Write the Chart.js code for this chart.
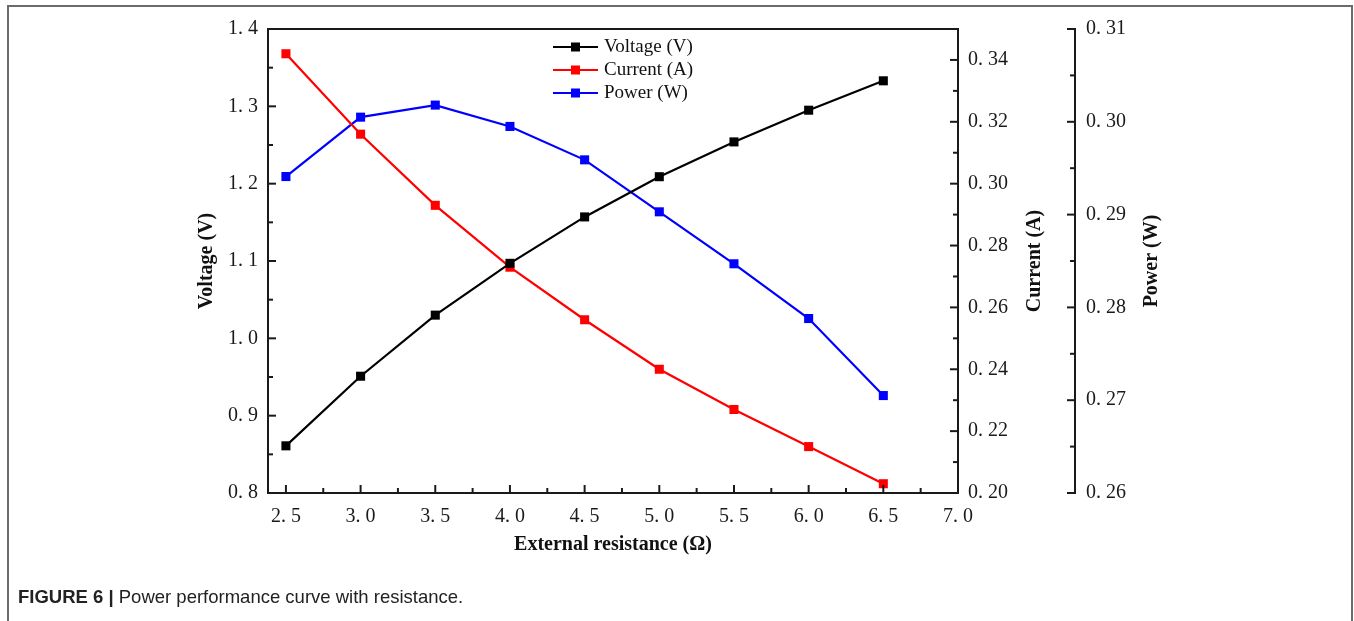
<!DOCTYPE html>
<html>
<head>
<meta charset="utf-8">
<title>Power performance curve with resistance</title>
<script src="https://cdn.jsdelivr.net/npm/chart.js@4.4.1/dist/chart.umd.min.js"></script>
<style>
  html, body { margin: 0; padding: 0; background: #fff; overflow: hidden; }
  #frame { position: absolute; left: 7px; top: 5px; width: 1342px; height: 640px; border: 2px solid #6b6b6b; border-bottom: none; }
  #chart { position: absolute; left: 0; top: 0; }
  #caption { position: absolute; left: 18px; top: 586px; font-family: "Liberation Sans", Arial, sans-serif; font-size: 18.5px; color: #222; }
  #caption b { font-weight: bold; }
</style>
</head>
<body>
<div id="frame"></div>
<canvas id="chart" width="1354" height="621"></canvas>
<div id="caption"><b>FIGURE 6 |</b> Power performance curve with resistance.</div>

<script>
// data
const resistance = [2.5, 3.0, 3.5, 4.0, 4.5, 5.0, 5.5, 6.0, 6.5];
const voltage = [0.861, 0.951, 1.030, 1.097, 1.157, 1.209, 1.254, 1.295, 1.333];
const current = [0.342, 0.316, 0.293, 0.273, 0.256, 0.240, 0.227, 0.215, 0.203];
const power = [0.2941, 0.3005, 0.3018, 0.2995, 0.2959, 0.2903, 0.2847, 0.2788, 0.2705];

const xTicks = [2.5, 3.0, 3.5, 4.0, 4.5, 5.0, 5.5, 6.0, 6.5, 7.0];
const voltageTicks = [0.8, 0.9, 1.0, 1.1, 1.2, 1.3, 1.4];
const currentTicks = [0.20, 0.22, 0.24, 0.26, 0.28, 0.30, 0.32, 0.34];
const powerTicks = [0.26, 0.27, 0.28, 0.29, 0.30, 0.31];

const serif = '"Liberation Serif", "Times New Roman", serif';
const tickFont = { family: serif, size: 20 };
const titleFont = { family: serif, size: 20, weight: 'bold' };

function pts(ys) {
  return resistance.map((x, i) => ({ x: x, y: ys[i] }));
}

// "1.4" -> "1. 4" like the original figure
function fmt(digits) {
  return v => Number(v).toFixed(digits).replace('.', '. ');
}

function fixedTicks(list) {
  return scale => { scale.ticks = list.map(v => ({ value: v })); };
}

// inward tick marks, minor ticks, axis frame, right titles, legend
const axisFrame = {
  id: 'axisFrame',
  afterDatasetsDraw(chart) {
    const { ctx, chartArea: a, scales } = chart;
    const pw = scales.yPower;
    ctx.save();
    ctx.strokeStyle = '#1a1a1a';
    ctx.lineWidth = 2;
    ctx.strokeRect(a.left, a.top, a.right - a.left, a.bottom - a.top);

    ctx.beginPath();
    ctx.moveTo(pw.left, a.top - 1);
    ctx.lineTo(pw.left, a.bottom + 1);
    ctx.stroke();

    function marks(scale, list, draw) {
      list.forEach((v, i) => {
        draw(scale.getPixelForValue(v), 8);
        if (i < list.length - 1) {
          draw(scale.getPixelForValue((v + list[i + 1]) / 2), 5);
        }
      });
    }
    function seg(x1, y1, x2, y2) {
      ctx.beginPath();
      ctx.moveTo(x1, y1);
      ctx.lineTo(x2, y2);
      ctx.stroke();
    }
    marks(scales.x, xTicks, (p, l) => seg(p, a.bottom, p, a.bottom - l));
    marks(scales.y, voltageTicks, (p, l) => seg(a.left, p, a.left + l, p));
    marks(scales.yCurrent, currentTicks, (p, l) => seg(a.right, p, a.right - l, p));
    marks(pw, powerTicks, (p, l) => seg(pw.left, p, pw.left - l, p));

    // right axis titles, read bottom to top
    ctx.fillStyle = '#111';
    ctx.font = 'bold 20px ' + serif;
    ctx.textAlign = 'center';
    ctx.textBaseline = 'middle';
    const cy = (a.top + a.bottom) / 2;
    [[scales.yCurrent.right - 40, 'Current (A)'], [pw.right - 13, 'Power (W)']].forEach(t => {
      ctx.save();
      ctx.translate(t[0], cy);
      ctx.rotate(-Math.PI / 2);
      ctx.fillText(t[1], 0, 0);
      ctx.restore();
    });

    // legend
    ctx.font = '19px ' + serif;
    ctx.textAlign = 'left';
    const lx = a.left + 285;
    chart.data.datasets.forEach((ds, i) => {
      const ly = a.top + 18 + i * 23;
      ctx.strokeStyle = ds.borderColor;
      ctx.lineWidth = 2;
      seg(lx, ly, lx + 45, ly);
      ctx.fillStyle = ds.borderColor;
      ctx.fillRect(lx + 18, ly - 4.5, 9, 9);
      ctx.fillStyle = '#111';
      ctx.fillText(ds.label, lx + 51, ly);
    });
    ctx.restore();
  }
};

const ctx = document.getElementById('chart');

new Chart(ctx, {
  type: 'line',
  data: {
    datasets: [
      { label: 'Voltage (V)', data: pts(voltage), yAxisID: 'y', borderColor: '#000000', backgroundColor: '#000000' },
      { label: 'Current (A)', data: pts(current), yAxisID: 'yCurrent', borderColor: '#ff0000', backgroundColor: '#ff0000' },
      { label: 'Power (W)', data: pts(power), yAxisID: 'yPower', borderColor: '#0000ff', backgroundColor: '#0000ff' }
    ]
  },
  options: {
    responsive: false,
    animation: false,
    layout: { padding: { left: 195, right: 189, top: 29, bottom: 64 } },
    elements: {
      line: { borderWidth: 2.2, tension: 0 },
      point: { pointStyle: 'rect', radius: 6.4, borderWidth: 0 }
    },
    plugins: {
      legend: { display: false },
      tooltip: { enabled: false }
    },
    scales: {
      x: {
        type: 'linear',
        min: 2.38,
        max: 7.0,
        afterBuildTicks: fixedTicks(xTicks),
        afterFit: s => { s.height = 64; },
        grid: { display: false, drawTicks: false },
        border: { display: false },
        ticks: { font: tickFont, color: '#1a1a1a', padding: 12, maxRotation: 0, callback: fmt(1) },
        title: { display: true, text: 'External resistance (Ω)', font: titleFont, color: '#111', padding: 0 }
      },
      y: {
        position: 'left',
        min: 0.8,
        max: 1.4,
        afterBuildTicks: fixedTicks(voltageTicks),
        afterFit: s => { s.width = 73; },
        grid: { display: false, drawTicks: false },
        border: { display: false },
        ticks: { font: tickFont, color: '#1a1a1a', padding: 10, callback: fmt(1) },
        title: { display: true, text: 'Voltage (V)', font: titleFont, color: '#111', padding: 0 }
      },
      yCurrent: {
        position: 'right',
        weight: 0,
        min: 0.20,
        max: 0.35,
        afterBuildTicks: fixedTicks(currentTicks),
        afterFit: s => { s.width = 117; },
        grid: { display: false, drawTicks: false },
        border: { display: false },
        ticks: { font: tickFont, color: '#1a1a1a', padding: 10, callback: fmt(2) }
      },
      yPower: {
        position: 'right',
        weight: 1,
        min: 0.26,
        max: 0.31,
        afterBuildTicks: fixedTicks(powerTicks),
        afterFit: s => { s.width = 90; },
        grid: { display: false, drawTicks: false },
        border: { display: false },
        ticks: { font: tickFont, color: '#1a1a1a', padding: 11, callback: fmt(2) }
      }
    }
  },
  plugins: [axisFrame]
});
</script>
</body>
</html>
